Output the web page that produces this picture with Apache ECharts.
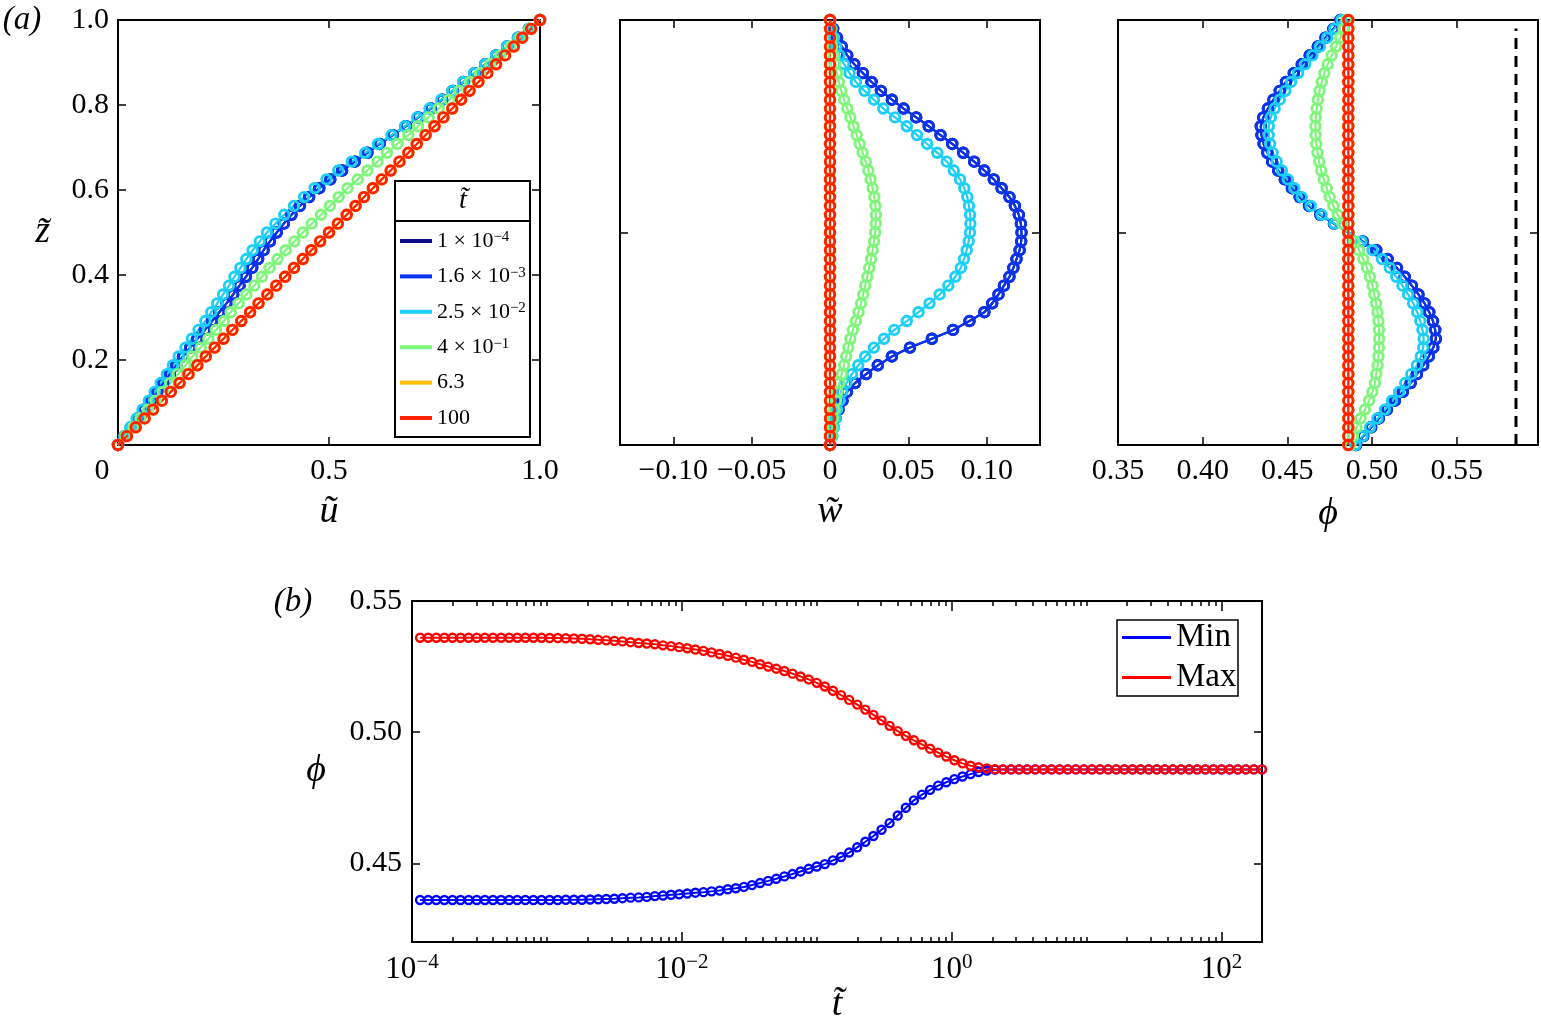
<!DOCTYPE html>
<html>
<head>
<meta charset="utf-8">
<title>profiles</title>
<script src="https://cdn.jsdelivr.net/npm/echarts@6/dist/echarts.min.js"></script>
<style>
  html, body { margin: 0; padding: 0; background: #fff; }
  #main { width: 1541px; height: 1035px; }
</style>
</head>
<body>
<div id="main"></div>
<script type="text/javascript">
// ---- data ----
// vertical grid shared by the three profile panels
var zGrid = [0, 0.0208, 0.0417, 0.0625, 0.0833, 0.1042, 0.125, 0.1458, 0.1667, 0.1875,
  0.2083, 0.2292, 0.25, 0.2708, 0.2917, 0.3125, 0.3333, 0.3542, 0.375, 0.3958,
  0.4167, 0.4375, 0.4583, 0.4792, 0.5, 0.5208, 0.5417, 0.5625, 0.5833, 0.6042,
  0.625, 0.6458, 0.6667, 0.6875, 0.7083, 0.7292, 0.75, 0.7708, 0.7917, 0.8125,
  0.8333, 0.8542, 0.875, 0.8958, 0.9167, 0.9375, 0.9583, 0.9792, 1];

// u~ profiles
var uBlue = [0, .016, .032, .047, .062, .078, .093, .107, .123, .138,
  .154, .171, .188, .206, .223, .240, .257, .273, .288, .303,
  .318, .332, .345, .360, .376, .393, .411, .431, .453, .477,
  .503, .531, .561, .591, .620, .651, .682, .711, .741, .768,
  .793, .819, .845, .870, .896, .922, .948, .974, 1];
var uCyan = [0, .015, .029, .044, .058, .073, .087, .101, .116, .130,
  .144, .160, .175, .191, .207, .221, .235, .249, .263, .276,
  .290, .304, .319, .336, .353, .373, .394, .417, .441, .466,
  .494, .522, .554, .586, .616, .648, .680, .709, .738, .766,
  .792, .818, .844, .870, .896, .922, .947, .974, 1];
var uGreen = [0, .018, .036, .053, .071, .089, .106, .124, .142, .160,
  .176, .196, .214, .232, .251, .267, .286, .304, .323, .341,
  .359, .378, .397, .418, .438, .459, .481, .502, .523, .544,
  .568, .591, .615, .637, .662, .688, .711, .736, .760, .785,
  .809, .834, .858, .882, .906, .930, .953, .976, 1];
var uRed = [0, .021, .042, .063, .083, .104, .125, .146, .167, .188,
  .208, .229, .25, .271, .292, .313, .333, .354, .375, .396,
  .417, .438, .458, .479, .5, .521, .542, .563, .583, .604,
  .625, .646, .667, .688, .708, .729, .75, .771, .792, .813,
  .833, .854, .875, .896, .917, .938, .958, .979, 1];

// w~ profiles
var wBlue = [0, .0003, .0015, .0035, .0055, .008, .0108, .016, .023, .0305,
  .0395, .051, .065, .0785, .089, .0985, .1035, .1075, .111, .1145,
  .117, .119, .121, .122, .1222, .1218, .1205, .118, .1145, .1095,
  .1045, .0985, .092, .085, .078, .0705, .063, .055, .047, .0395,
  .0325, .0265, .021, .0155, .011, .0075, .0045, .002, 0];
var wCyan = [0, .0015, .0025, .0035, .0045, .006, .0078, .0105, .014, .018,
  .0225, .028, .0345, .041, .049, .0565, .0635, .070, .0755, .080,
  .0835, .0855, .0872, .0885, .0893, .0896, .0894, .0887, .0876, .0857,
  .083, .079, .0745, .0685, .062, .0555, .049, .0415, .034, .028,
  .022, .0165, .0125, .009, .006, .004, .0025, .001, 0];
var wGreen = [0, .0008, .0014, .002, .0028, .0039, .0049, .006, .0075, .009,
  .0103, .0117, .013, .0146, .0165, .0182, .0198, .0212, .0225, .0238,
  .025, .0262, .0272, .0281, .0288, .0292, .0293, .029, .0283, .0272,
  .0259, .0245, .0228, .0208, .019, .017, .015, .013, .011, .009,
  .0072, .0056, .0044, .0033, .0023, .0015, .0009, .0004, 0];
var wRed = [0, 0, 0, 0, 0, 0, 0, 0, 0, 0,
  0, 0, 0, 0, 0, 0, 0, 0, 0, 0,
  0, 0, 0, 0, 0, 0, 0, 0, 0, 0,
  0, 0, 0, 0, 0, 0, 0, 0, 0, 0,
  0, 0, 0, 0, 0, 0, 0, 0, 0];

// phi profiles
var phiBlue = [.4906, .4948, .4995, .504, .5088, .5135, .5182, .5228, .5265, .5302,
  .5335, .5362, .5377, .5373, .536, .5338, .531, .5274, .5235, .5193,
  .5147, .5092, .5025, .4945, .486, .4775, .4695, .4628, .4573, .4527,
  .4485, .4446, .441, .4382, .436, .4347, .4343, .4358, .4385, .4418,
  .4455, .4492, .4538, .4585, .4632, .468, .4725, .4772, .4814];
var phiCyan = [.4902, .4943, .4988, .5032, .5076, .5118, .516, .5196, .5232, .5265,
  .5288, .5302, .5305, .5298, .5285, .5267, .5243, .5213, .518, .5143,
  .5105, .5058, .5003, .4937, .486, .4778, .4702, .4638, .4585, .4541,
  .4503, .4468, .4437, .4413, .4398, .439, .439, .4402, .4425, .4455,
  .4488, .4522, .4563, .4605, .4648, .4692, .4735, .4778, .482];
var phiGreen = [.487, .4887, .4908, .4932, .4958, .4982, .5002, .5017, .5025, .5033,
  .5038, .5041, .5042, .5041, .5038, .5032, .5024, .5013, .5003, .4988,
  .497, .4948, .4923, .4895, .486, .4825, .4797, .4772, .475, .4732,
  .4715, .47, .4688, .4678, .4671, .4667, .4666, .4668, .4673, .468,
  .469, .4703, .4718, .4738, .4762, .4788, .4812, .4833, .485];
var phiRed = [.486, .486, .486, .486, .486, .486, .486, .486, .486, .486,
  .486, .486, .486, .486, .486, .486, .486, .486, .486, .486,
  .486, .486, .486, .486, .486, .486, .486, .486, .486, .486,
  .486, .486, .486, .486, .486, .486, .486, .486, .486, .486,
  .486, .486, .486, .486, .486, .486, .486, .486, .486];
var phiLimit = [0.585, 0.585];
var zLimit = [0, 0.98];

// (b) min / max phi against log10(t~)
var log10T = [-3.94, -3.88, -3.82, -3.76, -3.70, -3.64, -3.58, -3.52, -3.46, -3.40,
  -3.34, -3.28, -3.22, -3.16, -3.10, -3.04, -2.98, -2.92, -2.86, -2.80,
  -2.74, -2.68, -2.62, -2.56, -2.50, -2.44, -2.38, -2.32, -2.26, -2.20,
  -2.14, -2.08, -2.02, -1.96, -1.90, -1.84, -1.78, -1.72, -1.66, -1.60,
  -1.54, -1.48, -1.42, -1.36, -1.30, -1.24, -1.18, -1.12, -1.06, -1.00,
  -0.94, -0.88, -0.82, -0.76, -0.70, -0.64, -0.58, -0.52, -0.46, -0.40,
  -0.34, -0.28, -0.22, -0.16, -0.10, -0.04, 0.02, 0.08, 0.14, 0.20,
  0.26, 0.32, 0.38, 0.44, 0.50, 0.56, 0.62, 0.68, 0.74, 0.80,
  0.86, 0.92, 0.98, 1.04, 1.10, 1.16, 1.22, 1.28, 1.34, 1.40,
  1.46, 1.52, 1.58, 1.64, 1.70, 1.76, 1.82, 1.88, 1.94, 2.00,
  2.06, 2.12, 2.18, 2.24, 2.30];
var phiMaxT = [.536, .536, .536, .536, .536, .536, .536, .536, .536, .536,
  .536, .536, .536, .536, .536, .536, .5359, .5359, .5358, .5357,
  .5356, .5354, .5352, .535, .5348, .5346, .5343, .534, .5338, .5335,
  .5331, .5328, .5324, .532, .5315, .531, .5304, .5298, .5291, .5284,
  .5276, .5268, .5259, .525, .5242, .5233, .5223, .5212, .5201, .5188,
  .5174, .5158, .5141, .5123, .5105, .5086, .5066, .5045, .5024, .5004,
  .4986, .4969, .4953, .4937, .4922, .4907, .4893, .4881, .4872, .4866,
  .4862, .4859, .4858, .4858, .4858, .4858, .4858, .4858, .4858, .4858,
  .4858, .4858, .4858, .4858, .4858, .4858, .4858, .4858, .4858, .4858,
  .4858, .4858, .4858, .4858, .4858, .4858, .4858, .4858, .4858, .4858,
  .4858, .4858, .4858, .4858, .4858];
var phiMinT = [.436, .436, .436, .436, .436, .436, .436, .436, .436, .436,
  .436, .436, .436, .436, .436, .436, .436, .436, .4361, .4361,
  .4361, .4362, .4363, .4364, .4365, .4367, .4369, .437, .4372, .4375,
  .4377, .438, .4382, .4385, .4388, .439, .4393, .4396, .4401, .4405,
  .441, .4417, .4425, .4433, .4441, .445, .4459, .4469, .4479, .4488,
  .4497, .4511, .4524, .4541, .4561, .4582, .4604, .4628, .4653, .4682,
  .4712, .474, .4762, .478, .4796, .4809, .4821, .4831, .484, .4848,
  .4854, .4857, .4858, .4858, .4858, .4858, .4858, .4858, .4858, .4858,
  .4858, .4858, .4858, .4858, .4858, .4858, .4858, .4858, .4858, .4858,
  .4858, .4858, .4858, .4858, .4858, .4858, .4858, .4858, .4858, .4858,
  .4858, .4858, .4858, .4858, .4858];

// ticks and labels
var uLabels = [0, 0.5, 1];
var uTicks = [0.5];
var zTicks = [0.2, 0.4, 0.6, 0.8];
var zLabels = [0.2, 0.4, 0.6, 0.8, 1.0];
var zMidTick = [0.5];
var wTicks = [-0.1, -0.05, 0, 0.05, 0.1];
var phiTicks = [0.35, 0.4, 0.45, 0.5, 0.55];
var phiBTicks = [0.45, 0.5, 0.55];
var tMajor = [-4, -2, 0, 2];
var tDecades = [-4, -3, -2, -1, 0, 1, 2];

var timeNames = ['1e-4', '1.6e-3', '2.5e-2', '4e-1', '6.3', '100'];
var timeLabels = ['{n|1 × 10}{s|\u22124}', '{n|1.6 × 10}{s|\u22123}', '{n|2.5 × 10}{s|\u22122}',
  '{n|4 × 10}{s|\u22121}', '{n|6.3}', '{n|100}'];
var timeColors = ['#0b0b86', '#0a34f0', '#1ccff6', '#80f57c', '#ffbf00', '#ff2200'];

var FONT = "'Liberation Serif', 'Times New Roman', serif";

var tMinor = [];
tDecades.forEach(function (d) {
  for (var k = 1; k <= 9; k++) {
    var e = d + Math.log10(k);
    if (e <= 2.3 && tMajor.indexOf(e) < 0) tMinor.push(e);
  }
});

var myChart = echarts.init(document.getElementById('main'));

function axis(o) {
  var base = {
    type: 'value',
    axisLine: { show: false, onZero: false },
    splitLine: { show: false },
    axisTick: { show: true, inside: true, length: 8, lineStyle: { color: '#000', width: 1.5 } },
    axisLabel: { show: false }
  };
  for (var k in o) base[k] = o[k];
  return base;
}
function ticks(vals, len) {
  return { show: true, inside: true, length: len || 8, customValues: vals, lineStyle: { color: '#000', width: 1.5 } };
}
function labels(vals, fmt, extra) {
  var l = { show: true, color: '#000', fontFamily: FONT, fontSize: 30, margin: 10, customValues: vals, formatter: fmt };
  if (extra) for (var k in extra) l[k] = extra[k];
  return l;
}
var nameStyle = { fontFamily: FONT, fontSize: 38, fontStyle: 'italic', color: '#000' };

function profile(idx, xs, xi, yi) {
  var c = timeColors[idx];
  return {
    type: 'line', name: timeNames[idx], xAxisIndex: xi, yAxisIndex: yi,
    data: xs.map(function (v, i) { return [v, zGrid[i]]; }),
    symbol: 'circle', symbolSize: 9.5, clip: false,
    itemStyle: { color: 'rgba(0,0,0,0)', borderColor: c, borderWidth: 2.9 },
    lineStyle: { color: c, width: 2.2 },
    emphasis: { disabled: true }
  };
}
function curveT(name, c, ys) {
  return {
    type: 'line', name: name, xAxisIndex: 6, yAxisIndex: 6,
    data: ys.map(function (v, i) { return [log10T[i], v]; }),
    symbol: 'circle', symbolSize: 8, clip: false,
    itemStyle: { color: 'rgba(0,0,0,0)', borderColor: c, borderWidth: 2.4 },
    lineStyle: { color: c, width: 2 },
    emphasis: { disabled: true }
  };
}

var uSets = [uBlue, uBlue, uCyan, uGreen, uRed, uRed];
var wSets = [wBlue, wBlue, wCyan, wGreen, wRed, wRed];
var pSets = [phiBlue, phiBlue, phiCyan, phiGreen, phiRed, phiRed];

var series = [];
for (var i = 0; i < 6; i++) series.push(profile(i, uSets[i], 0, 0));
for (i = 0; i < 6; i++) series.push(profile(i, wSets[i], 2, 2));
series.push({
  type: 'line', name: 'limit', xAxisIndex: 4, yAxisIndex: 4, symbol: 'none',
  data: phiLimit.map(function (v, i) { return [v, zLimit[i]]; }),
  lineStyle: { color: '#000', width: 3, type: [11, 7] }, emphasis: { disabled: true }
});
for (i = 0; i < 6; i++) series.push(profile(i, pSets[i], 4, 4));
series.push(curveT('Min', '#0000ff', phiMinT));
series.push(curveT('Max', '#ff0000', phiMaxT));

var gridStyle = { show: true, borderColor: '#000', borderWidth: 2, backgroundColor: 'transparent' };
function grid(l, t, w, h) {
  var g = { left: l, top: t, width: w, height: h };
  for (var k in gridStyle) g[k] = gridStyle[k];
  return g;
}

function sup(e) { return '{b|10}{s|' + (e < 0 ? '\u2212' + (-e) : e) + '}'; }

var option = {
  animation: false,
  backgroundColor: '#fff',
  textStyle: { fontFamily: FONT },
  grid: [grid(118, 20, 422, 425), grid(620, 20, 420, 425), grid(1118, 20, 420, 425), grid(412, 601, 850, 341)],
  xAxis: [
    axis({ gridIndex: 0, position: 'bottom', min: 0, max: 1, axisTick: ticks(uTicks),
      axisLabel: labels(uLabels, function (v) { return v === 0 ? '{o|0}' : v.toFixed(1); },
        { margin: 11, rich: { o: { fontSize: 30, fontFamily: FONT, padding: [0, 32, 0, 0] } } }),
      name: '\u0169', nameLocation: 'middle', nameGap: 48, nameTextStyle: nameStyle }),
    axis({ gridIndex: 0, position: 'top', min: 0, max: 1, axisTick: ticks(uTicks) }),
    axis({ gridIndex: 1, position: 'bottom', min: -0.134, max: 0.134, axisTick: ticks(wTicks),
      axisLabel: labels(wTicks, function (v) {
        if (Math.abs(v) < 1e-9) return '0';
        return (v < 0 ? '\u2212' : '') + Math.abs(v).toFixed(2);
      }, { margin: 11 }),
      name: 'w\u0303', nameLocation: 'middle', nameGap: 48, nameTextStyle: nameStyle }),
    axis({ gridIndex: 1, position: 'top', min: -0.134, max: 0.134, axisTick: ticks(wTicks) }),
    axis({ gridIndex: 2, position: 'bottom', min: 0.35, max: 0.598, axisTick: ticks(phiTicks),
      axisLabel: labels(phiTicks, function (v) { return v.toFixed(2); }, { margin: 11 }),
      name: '\u03d5', nameLocation: 'middle', nameGap: 50, nameTextStyle: nameStyle }),
    axis({ gridIndex: 2, position: 'top', min: 0.35, max: 0.598, axisTick: ticks(phiTicks) }),
    axis({ gridIndex: 3, position: 'bottom', min: -4, max: 2.3, axisTick: ticks(tMajor, 10),
      axisLabel: labels(tMajor, sup, { margin: 10, rich: {
        b: { fontFamily: FONT, fontSize: 31, lineHeight: 36 },
        s: { fontFamily: FONT, fontSize: 21, lineHeight: 21, verticalAlign: 'top' } } }),
      name: 't\u0303', nameLocation: 'middle', nameGap: 36, nameTextStyle: nameStyle }),
    axis({ gridIndex: 3, position: 'bottom', min: -4, max: 2.3, axisTick: ticks(tMinor, 5) }),
    axis({ gridIndex: 3, position: 'top', min: -4, max: 2.3, axisTick: ticks(tMajor, 10) }),
    axis({ gridIndex: 3, position: 'top', min: -4, max: 2.3, axisTick: ticks(tMinor, 5) })
  ],
  yAxis: [
    axis({ gridIndex: 0, position: 'left', min: 0, max: 1, axisTick: ticks(zTicks),
      axisLabel: labels(zLabels, function (v) { return v.toFixed(1); }, { margin: 9 }),
      name: 'z\u0303', nameLocation: 'middle', nameGap: 68, nameRotate: 0, nameTextStyle: nameStyle }),
    axis({ gridIndex: 0, position: 'right', min: 0, max: 1, axisTick: ticks(zTicks) }),
    axis({ gridIndex: 1, position: 'left', min: 0, max: 1, axisTick: ticks(zMidTick) }),
    axis({ gridIndex: 1, position: 'right', min: 0, max: 1, axisTick: ticks(zMidTick) }),
    axis({ gridIndex: 2, position: 'left', min: 0, max: 1, axisTick: ticks(zMidTick) }),
    axis({ gridIndex: 2, position: 'right', min: 0, max: 1, axisTick: ticks(zMidTick) }),
    axis({ gridIndex: 3, position: 'left', min: 0.42, max: 0.55, axisTick: ticks(phiBTicks),
      axisLabel: labels(phiBTicks, function (v) { return v.toFixed(2); }, { margin: 10 }),
      name: '\u03d5', nameLocation: 'middle', nameGap: 86, nameRotate: 0, nameTextStyle: nameStyle }),
    axis({ gridIndex: 3, position: 'right', min: 0.42, max: 0.55, axisTick: ticks(phiBTicks) })
  ],
  legend: [
    {
      z: 60, left: 400, top: 230, orient: 'vertical', padding: 0,
      itemWidth: 32, itemHeight: 4, itemGap: 13.4, icon: 'rect',
      selectedMode: false,
      data: timeNames.map(function (n, i) { return { name: n, itemStyle: { color: timeColors[i], borderWidth: 0 } }; }),
      formatter: function (n) { return timeLabels[timeNames.indexOf(n)]; },
      textStyle: { height: 22, lineHeight: 22, rich: {
        n: { fontFamily: FONT, fontSize: 22, lineHeight: 22, color: '#000' },
        s: { fontFamily: FONT, fontSize: 15, lineHeight: 15, verticalAlign: 'top', color: '#000' } } }
    },
    {
      z: 60, left: 1122, top: 620, orient: 'vertical', padding: 0,
      itemWidth: 49, itemHeight: 3, itemGap: 5, icon: 'rect', selectedMode: false,
      data: [{ name: 'Min', itemStyle: { color: '#0000ff', borderWidth: 0 } },
             { name: 'Max', itemStyle: { color: '#ff0000', borderWidth: 0 } }],
      textStyle: { fontFamily: FONT, fontSize: 33, color: '#000', height: 35, lineHeight: 35 }
    }
  ],
  graphic: [
    { type: 'rect', z: 50, shape: { x: 395, y: 181, width: 135, height: 256 },
      style: { fill: '#fff', stroke: '#000', lineWidth: 2 } },
    { type: 'line', z: 51, shape: { x1: 395, y1: 221, x2: 530, y2: 221 },
      style: { stroke: '#000', lineWidth: 2 } },
    { type: 'text', z: 51, x: 463, y: 201,
      style: { text: 't\u0303', fontFamily: FONT, fontSize: 28, fontStyle: 'italic', fill: '#000', align: 'center', verticalAlign: 'middle' } },
    { type: 'rect', z: 50, shape: { x: 1117, y: 620, width: 121, height: 76 },
      style: { fill: '#fff', stroke: '#000', lineWidth: 1.5 } },
    { type: 'text', z: 51, x: 22, y: 20,
      style: { text: '(a)', fontFamily: FONT, fontSize: 33, fontStyle: 'italic', fill: '#000', align: 'center', verticalAlign: 'middle' } },
    { type: 'text', z: 51, x: 293, y: 602,
      style: { text: '(b)', fontFamily: FONT, fontSize: 33, fontStyle: 'italic', fill: '#000', align: 'center', verticalAlign: 'middle' } }
  ],
  series: series
};
myChart.setOption(option);
</script>
</body>
</html>
